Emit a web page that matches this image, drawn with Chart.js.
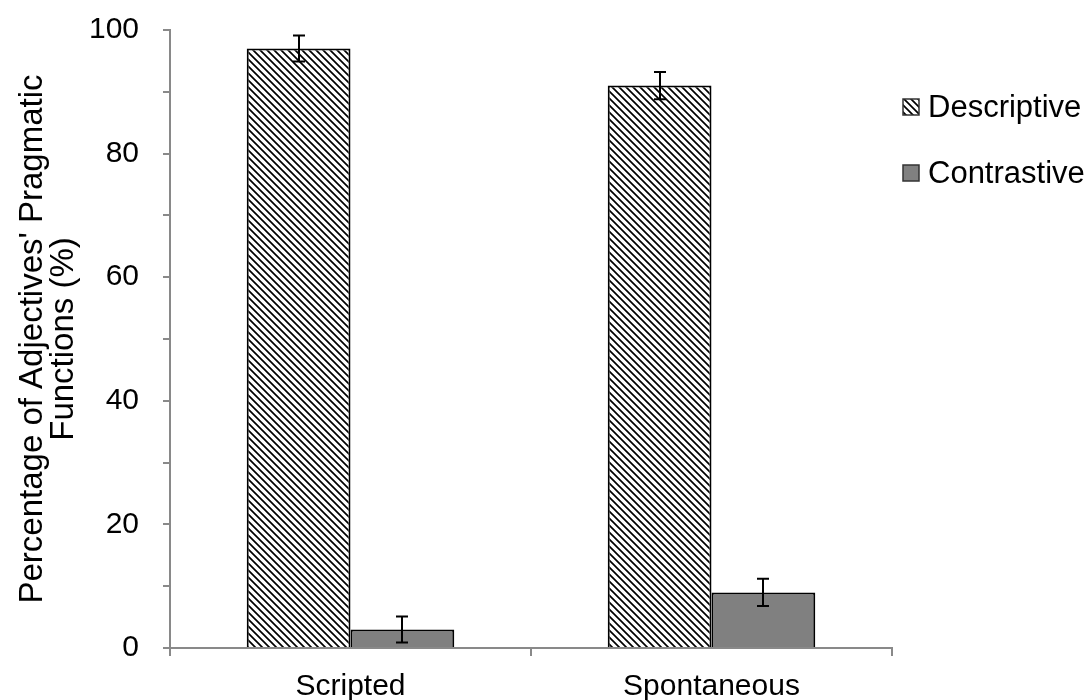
<!DOCTYPE html>
<html>
<head>
<meta charset="utf-8">
<script src="https://cdn.jsdelivr.net/npm/chart.js@4.4.0/dist/chart.umd.min.js"></script>
<style>
  html, body { margin: 0; padding: 0; background: #fff; }
</style>
</head>
<body>
<canvas id="chart" width="1091" height="700"></canvas>
<script>
// chart data
const categories = ['Scripted', 'Spontaneous'];
const seriesNames = ['Descriptive', 'Contrastive'];
const descriptiveValues = [97, 91];
const contrastiveValues = [3, 9];
const descriptiveErrors = [2.1, 2.2];
const contrastiveErrors = [2.1, 2.2];
const yTickLabels = [0, 20, 40, 60, 80, 100];

const FONT = 'Arial, "Liberation Sans", sans-serif';
const AXIS_GREY = '#898989';

const canvas = document.getElementById('chart');
const ctx = canvas.getContext('2d');

// diagonal hatch like Excel's "wide downward diagonal"
function makeHatch() {
  const n = 7;
  const tile = document.createElement('canvas');
  tile.width = n;
  tile.height = n;
  const g = tile.getContext('2d');
  g.fillStyle = '#fff';
  g.fillRect(0, 0, n, n);
  g.strokeStyle = '#000';
  g.lineWidth = 1.7;
  g.beginPath();
  g.moveTo(-2, -2); g.lineTo(n + 2, n + 2);
  g.moveTo(-2, n - 2); g.lineTo(2, n + 2);
  g.moveTo(n - 2, -2); g.lineTo(n + 2, 2);
  g.stroke();
  return ctx.createPattern(tile, 'repeat');
}
const hatch = makeHatch();

// error bars drawn from the bar elements and y scale
const errorBars = {
  id: 'errorBars',
  afterDatasetsDraw(chart) {
    const c = chart.ctx;
    const yScale = chart.scales.y;
    c.save();
    c.strokeStyle = '#000';
    c.lineWidth = 2;
    chart.data.datasets.forEach((ds, i) => {
      const meta = chart.getDatasetMeta(i);
      meta.data.forEach((bar, j) => {
        const v = ds.data[j];
        const e = ds.errors[j];
        const top = yScale.getPixelForValue(v + e);
        const bot = yScale.getPixelForValue(v - e);
        const x = Math.round(bar.x);
        c.beginPath();
        c.moveTo(x, top); c.lineTo(x, bot);
        c.moveTo(x - 6, top); c.lineTo(x + 6, top);
        c.moveTo(x - 6, bot); c.lineTo(x + 6, bot);
        c.stroke();
      });
    });
    c.restore();
  }
};

// legend on the right, Excel style
const sideLegend = {
  id: 'sideLegend',
  afterDraw(chart) {
    const c = chart.ctx;
    const area = chart.chartArea;
    c.save();
    chart.data.datasets.forEach((ds, i) => {
      const bx = area.right + 11;
      const cy = 107 + i * 66;
      c.fillStyle = ds.backgroundColor;
      c.fillRect(bx, cy - 8, 16, 16);
      c.strokeStyle = '#333';
      c.lineWidth = 1.5;
      c.strokeRect(bx, cy - 8, 16, 16);
      c.fillStyle = '#000';
      c.font = '31px ' + FONT;
      c.textBaseline = 'middle';
      c.textAlign = 'left';
      c.fillText(ds.label, bx + 25, cy + 1);
    });
    c.restore();
  }
};

const chart = new Chart(ctx, {
  type: 'bar',
  data: {
    labels: categories,
    datasets: [
      {
        label: seriesNames[0],
        data: descriptiveValues,
        errors: descriptiveErrors,
        backgroundColor: hatch,
        borderColor: '#000',
        borderWidth: 2,
        borderSkipped: 'bottom'
      },
      {
        label: seriesNames[1],
        data: contrastiveValues,
        errors: contrastiveErrors,
        backgroundColor: '#808080',
        borderColor: '#000',
        borderWidth: 2,
        borderSkipped: 'bottom'
      }
    ]
  },
  options: {
    responsive: false,
    animation: false,
    devicePixelRatio: 1,
    categoryPercentage: 0.575,
    barPercentage: 1,
    layout: {
      padding: { top: 30, right: 199, bottom: 0, left: 17 }
    },
    plugins: {
      legend: { display: false },
      tooltip: { enabled: false }
    },
    scales: {
      x: {
        offset: true,
        afterFit: (scale) => { scale.height = 52; },
        grid: {
          offset: true,
          drawOnChartArea: false,
          drawTicks: true,
          tickLength: 8,
          color: AXIS_GREY,
          lineWidth: 2
        },
        border: { color: AXIS_GREY, width: 2 },
        ticks: {
          color: '#000',
          padding: 13,
          font: { family: FONT, size: 30 }
        }
      },
      y: {
        min: 0,
        max: 100,
        afterFit: (scale) => {
          scale.width = 153;
          scale.paddingTop = 0;
          scale.paddingBottom = 0;
        },
        grid: {
          drawOnChartArea: false,
          drawTicks: true,
          tickLength: 7,
          color: AXIS_GREY,
          lineWidth: 2
        },
        border: { color: AXIS_GREY, width: 2 },
        ticks: {
          stepSize: 10,
          color: '#000',
          padding: 24,
          font: { family: FONT, size: 30 },
          callback: (v) => yTickLabels.includes(v) ? v : ''
        },
        title: {
          display: true,
          text: ["Percentage of Adjectives' Pragmatic", 'Functions (%)'],
          color: '#000',
          font: { family: FONT, size: 33, lineHeight: 0.95 },
          padding: { top: 0, bottom: 0 }
        }
      }
    }
  },
  plugins: [errorBars, sideLegend]
});
</script>
</body>
</html>
